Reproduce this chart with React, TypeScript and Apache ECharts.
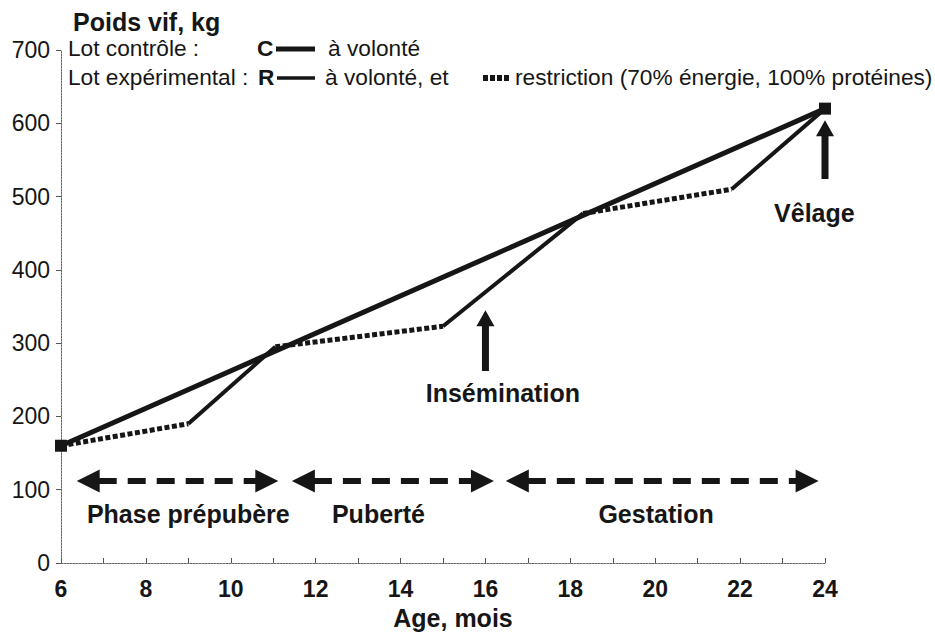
import React, { useEffect, useRef } from 'react';
import * as echarts from 'echarts';

// ---- data ----
const controlAges = [6, 24];
const controlWeights = [160, 620];
const restrictedAges = [6, 9, 11.05, 15, 18.3, 21.8, 24];
const restrictedWeights = [160, 190, 295, 323, 477, 510, 620];
// feeding regime of each segment between consecutive points
const restrictedFeeding = ['restriction', 'volonte', 'restriction', 'volonte', 'restriction', 'volonte'];

const phaseNames = ['Phase prépubère', 'Puberté', 'Gestation'];
const phaseStarts = [6.37, 11.44, 16.48];
const phaseEnds = [11.12, 16.2, 23.85];
const phaseLevel = 112;
const phaseLabelAges = [9.0, 13.48, 20.02];
const phaseLabelLevel = 67;

const eventNames = ['Insémination', 'Vêlage'];
const eventAges = [16.0, 24.0];
const eventTips = [345, 604];
const eventBases = [262, 524];
const eventLabelAges = [16.41, 23.75];
const eventLabelLevels = [232, 478];

const FONT = '"Liberation Sans", Arial, sans-serif';
const INK = '#161616';

export default function App() {
  const ref = useRef<HTMLDivElement>(null);
  useEffect(() => {
    document.body.style.margin = '0';
    if (!ref.current) return;
    const chart = echarts.init(ref.current, null, { renderer: 'svg' });

    const series: any[] = [];
    for (let i = 0; i < restrictedAges.length - 1; i++) {
      const restricted = restrictedFeeding[i] === 'restriction';
      series.push({
        type: 'line',
        name: restricted ? 'R restriction' : 'R à volonté',
        data: [
          [restrictedAges[i], restrictedWeights[i]],
          [restrictedAges[i + 1], restrictedWeights[i + 1]],
        ],
        symbol: 'none',
        z: 2,
        lineStyle: restricted
          ? { color: INK, width: 5, type: [5, 2.5], cap: 'butt' }
          : { color: INK, width: 4, type: 'solid' },
      });
    }
    series.push({
      type: 'line',
      name: 'C à volonté',
      data: controlAges.map((a, i) => [a, controlWeights[i]]),
      symbol: 'rect',
      symbolSize: 12,
      itemStyle: { color: INK },
      lineStyle: { color: INK, width: 5 },
      z: 3,
    });

    chart.setOption({
      animation: false,
      grid: { left: 61, right: 110, top: 50, bottom: 70, containLabel: false, outerBoundsMode: 'none' },
      xAxis: {
        type: 'value',
        min: 6,
        max: 24,
        interval: 2,
        name: 'Age, mois',
        nameLocation: 'middle',
        nameGap: 42,
        nameTextStyle: { fontFamily: FONT, fontWeight: 'bold', fontSize: 25, color: INK, padding: [0, 0, 0, 20] },
        axisLine: { lineStyle: { color: '#666', width: 1, type: [2, 1] } },
        axisTick: { inside: true, length: 5, lineStyle: { color: '#555' } },
        minorTick: { show: true, splitNumber: 2, length: 5, lineStyle: { color: '#555' } },
        splitLine: { show: false },
        axisLabel: { fontFamily: FONT, fontWeight: 'bold', fontSize: 23, color: INK, margin: 14 },
      },
      yAxis: {
        type: 'value',
        min: 0,
        max: 700,
        interval: 100,
        name: 'Poids vif, kg',
        nameLocation: 'end',
        nameGap: 16,
        nameTextStyle: { fontFamily: FONT, fontWeight: 'bold', fontSize: 25, color: INK, align: 'left', padding: [0, 0, 0, 12] },
        axisLine: { show: true, lineStyle: { color: '#666', width: 1, type: [2, 1] } },
        axisTick: { show: true, inside: false, length: 5, lineStyle: { color: '#555' } },
        splitLine: { show: false },
        axisLabel: { fontFamily: FONT, fontSize: 23, color: INK, margin: 11 },
      },
      series,
    });

    const px = (x: number, y: number) => chart.convertToPixel({ gridIndex: 0 }, [x, y]) as number[];
    const graphics: any[] = [];

    // phase double arrows
    const L = 23;
    const W = 11.5;
    phaseNames.forEach((name, i) => {
      const a = px(phaseStarts[i], phaseLevel);
      const b = px(phaseEnds[i], phaseLevel);
      const y = a[1];
      graphics.push({
        type: 'polygon',
        shape: { points: [[a[0], y], [a[0] + L, y - W], [a[0] + L, y + W]] },
        style: { fill: INK },
      });
      graphics.push({
        type: 'polygon',
        shape: { points: [[b[0], y], [b[0] - L, y - W], [b[0] - L, y + W]] },
        style: { fill: INK },
      });
      graphics.push({
        type: 'line',
        shape: { x1: a[0] + L - 1, y1: y, x2: b[0] - L + 1, y2: y },
        style: { stroke: INK, lineWidth: 6, lineDash: [18, 11] },
      });
      const lp = px(phaseLabelAges[i], phaseLabelLevel);
      graphics.push({
        type: 'text',
        style: {
          text: name, x: lp[0], y: lp[1], align: 'center', verticalAlign: 'middle',
          fontFamily: FONT, fontWeight: 'bold', fontSize: 25, fill: INK,
        },
      });
    });

    // event arrows
    eventNames.forEach((name, i) => {
      const t = px(eventAges[i], eventTips[i]);
      const bse = px(eventAges[i], eventBases[i]);
      const x = t[0];
      const ty = t[1];
      const by = bse[1];
      const hl = 16, hw = 9, sw = 3.5;
      graphics.push({
        type: 'polygon',
        shape: {
          points: [
            [x, ty], [x + hw, ty + hl], [x + sw, ty + hl], [x + sw, by],
            [x - sw, by], [x - sw, ty + hl], [x - hw, ty + hl],
          ],
        },
        style: { fill: INK },
      });
      const lp = px(eventLabelAges[i], eventLabelLevels[i]);
      graphics.push({
        type: 'text',
        style: {
          text: name, x: lp[0], y: lp[1], align: 'center', verticalAlign: 'middle',
          fontFamily: FONT, fontWeight: 'bold', fontSize: 25, fill: INK,
        },
      });
    });

    // legend (hand-drawn, as in the original)
    const txt = (text: string, x: number, y: number, bold = false) => ({
      type: 'text',
      style: {
        text, x, y, align: 'left', verticalAlign: 'middle',
        fontFamily: FONT, fontWeight: bold ? 'bold' : 'normal', fontSize: 22.7, fill: INK,
      },
    });
    graphics.push(txt('Lot contrôle :', 68, 48));
    graphics.push(txt('C', 257, 48, true));
    graphics.push({ type: 'line', shape: { x1: 276, y1: 49, x2: 315, y2: 49 }, style: { stroke: INK, lineWidth: 5 } });
    graphics.push(txt('à volonté', 328, 48));
    graphics.push(txt('Lot expérimental :', 68, 77));
    graphics.push(txt('R', 258, 77, true));
    graphics.push({ type: 'line', shape: { x1: 277, y1: 78, x2: 315, y2: 78 }, style: { stroke: INK, lineWidth: 3.5 } });
    graphics.push(txt('à volonté, et', 325, 77));
    graphics.push({ type: 'line', shape: { x1: 483, y1: 78, x2: 510, y2: 78 }, style: { stroke: INK, lineWidth: 6, lineDash: [5, 2] } });
    graphics.push(txt('restriction (70% énergie, 100% protéines)', 515, 77));

    chart.setOption({ graphic: graphics });

    return () => chart.dispose();
  }, []);
  return <div ref={ref} style={{ width: 935, height: 633, background: '#fff' }} />;
}
